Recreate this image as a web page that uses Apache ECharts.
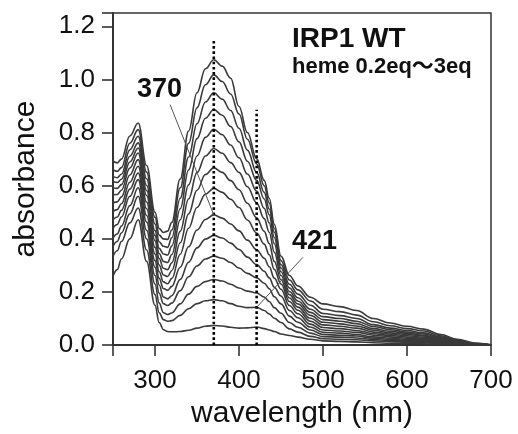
<!DOCTYPE html>
<html><head><meta charset="utf-8">
<script src="https://cdn.jsdelivr.net/npm/echarts@6/dist/echarts.min.js"></script>
<style>html,body{margin:0;padding:0;background:#fff}#c{width:518px;height:434px}</style>
</head><body><div id="c"></div>
<script>
const wavelengths = [250,255,260,270,280,290,300,305,310,315,320,330,340,350,360,370,380,390,400,410,421,430,436,442,450,460,470,485,500,520,540,560,580,600,620,640,660,680,700];

const c01 = [.259,.284,.324,.400,.472,.315,.150,.085,.058,.051,.050,.051,.056,.064,.071,.074,.072,.067,.064,.065,.068,.062,.057,.051,.042,.036,.030,.022,.016,.014,.012,.009,.007,.006,.005,.003,.002,.001,0];
const c02 = [.334,.355,.390,.460,.516,.358,.190,.122,.096,.090,.092,.112,.137,.156,.167,.171,.167,.156,.146,.141,.142,.130,.117,.101,.085,.061,.049,.033,.024,.022,.020,.016,.013,.011,.009,.006,.003,.001,0];
const c03 = [.372,.390,.422,.494,.560,.400,.230,.158,.122,.115,.121,.155,.192,.221,.239,.247,.241,.229,.215,.203,.196,.181,.164,.141,.120,.085,.067,.045,.032,.030,.027,.021,.017,.015,.012,.008,.004,.002,0];
const c04 = [.403,.418,.448,.525,.592,.432,.262,.195,.156,.149,.158,.205,.257,.298,.324,.335,.327,.311,.290,.270,.253,.233,.212,.182,.155,.109,.086,.057,.040,.037,.034,.026,.022,.018,.016,.010,.006,.002,0];
const c05 = [.441,.454,.482,.560,.623,.463,.293,.226,.181,.174,.186,.247,.312,.366,.399,.413,.403,.384,.360,.331,.303,.278,.253,.218,.185,.130,.103,.068,.048,.045,.040,.031,.026,.022,.019,.012,.007,.002,0];
const c06 = [.472,.482,.507,.587,.648,.488,.318,.251,.213,.206,.221,.293,.370,.433,.473,.490,.478,.456,.430,.395,.359,.327,.295,.252,.210,.149,.118,.079,.057,.053,.048,.037,.031,.026,.022,.015,.008,.003,0];
const c07 = [.503,.510,.532,.613,.673,.513,.343,.276,.238,.231,.251,.342,.440,.518,.568,.590,.575,.549,.518,.471,.422,.380,.340,.285,.230,.164,.131,.090,.066,.062,.055,.043,.036,.030,.026,.017,.009,.003,0];
const c08 = [.535,.539,.558,.640,.698,.538,.368,.301,.264,.258,.281,.385,.494,.583,.642,.667,.650,.619,.585,.534,.479,.428,.382,.315,.246,.177,.143,.101,.076,.071,.064,.049,.041,.035,.030,.020,.011,.004,0];
const c09 = [.566,.567,.583,.666,.723,.563,.393,.326,.289,.284,.310,.428,.550,.649,.712,.740,.722,.687,.650,.596,.535,.476,.425,.350,.262,.190,.155,.112,.086,.080,.072,.056,.046,.040,.034,.022,.012,.004,0];
const c10 = [.592,.590,.604,.689,.742,.582,.412,.345,.315,.311,.341,.472,.603,.712,.782,.812,.792,.753,.705,.644,.580,.515,.460,.382,.276,.202,.166,.123,.096,.090,.081,.062,.052,.044,.037,.025,.013,.005,0];
const c11 = [.616,.612,.624,.711,.761,.601,.431,.364,.343,.339,.373,.513,.659,.777,.854,.887,.865,.823,.765,.692,.620,.550,.490,.405,.290,.215,.178,.135,.107,.100,.090,.070,.058,.049,.042,.028,.015,.005,0];
const c12 = [.635,.630,.643,.735,.786,.626,.456,.389,.372,.368,.404,.553,.708,.833,.915,.950,.926,.883,.816,.734,.650,.575,.512,.425,.303,.229,.192,.150,.119,.111,.100,.077,.064,.055,.046,.031,.017,.006,0];
const c13 = [.660,.654,.668,.760,.811,.651,.481,.414,.400,.398,.433,.592,.760,.893,.980,1.017,.992,.945,.870,.775,.682,.600,.535,.440,.318,.245,.208,.166,.135,.126,.113,.088,.073,.062,.053,.035,.019,.007,.001];
const c14 = [.692,.686,.700,.787,.836,.676,.500,.439,.424,.429,.462,.625,.806,.950,1.040,1.074,1.050,1.005,.898,.800,.702,.620,.553,.455,.335,.262,.223,.180,.155,.145,.130,.100,.083,.071,.060,.040,.022,.008,.001];

const curves = [c01,c02,c03,c04,c05,c06,c07,c08,c09,c10,c11,c12,c13,c14];

const xTicks = [300,400,500,600,700];
const yTicks = [0,0.2,0.4,0.6,0.8,1.0,1.2];

const markerWavelengths = [370, 421];
const markerTops = [1.15, 0.886];

const label370Line = [[318, 0.905], [370, 0.49]];
const label421Line = [[476, 0.33], [421, 0.142]];

const X_MIN = 250, X_MAX = 700, Y_MIN = 0, Y_MAX = 1.25;
const FONT = "'Liberation Sans', Arial, sans-serif";
const TICK_LEN = 11;
const chart = echarts.init(document.getElementById('c'), null, {renderer:'canvas'});

const series = curves.map((c, i) => ({
  type: 'line', name: 'c' + (i+1),
  data: wavelengths.map((w, j) => [w, c[j]]),
  showSymbol: false, smooth: 0.4, smoothMonotone: 'x',
  lineStyle: {color: '#3a3a3a', width: 1.6},
  silent: true, animation: false, z: 2
}));

markerWavelengths.forEach((w, i) => {
  series.push({
    type: 'line', data: [[w, 0], [w, markerTops[i]]],
    showSymbol: false, animation: false, silent: true, z: 3,
    lineStyle: {color: '#000', width: 2.6, type: [2.6, 2.6]}
  });
});
[label370Line, label421Line].forEach(d => {
  series.push({
    type: 'line', data: d, showSymbol: false, animation: false, silent: true, z: 4,
    lineStyle: {color: '#555', width: 1}
  });
});

const tickStyle = {color: '#333', width: 1.6};

chart.setOption({
  animation: false,
  backgroundColor: '#fff',
  grid: {left: 113, right: 27, top: 13, bottom: 88, show: true, borderColor: '#333', borderWidth: 1.5},
  xAxis: {
    type: 'value', min: X_MIN, max: X_MAX, splitNumber: 5,
    name: 'wavelength (nm)', nameLocation: 'middle', nameGap: 67,
    nameTextStyle: {fontFamily: FONT, fontSize: 30, color: '#111', verticalAlign: 'middle'},
    axisLine: {show: true, onZero: false, lineStyle: {color: '#333', width: 2}},
    axisTick: {show: true, inside: false, length: TICK_LEN, lineStyle: tickStyle},
    splitLine: {show: false},
    axisLabel: {show: true, customValues: xTicks, margin: 23, fontFamily: FONT, fontSize: 26, color: '#111'}
  },
  yAxis: {
    type: 'value', min: Y_MIN, max: Y_MAX, splitNumber: 6,
    name: 'absorbance', nameLocation: 'middle', nameGap: 87, nameRotate: 90,
    nameTextStyle: {fontFamily: FONT, fontSize: 30, color: '#111', verticalAlign: 'middle'},
    axisLine: {show: true, onZero: false, lineStyle: {color: '#333', width: 2}},
    axisTick: {show: true, inside: false, length: TICK_LEN, lineStyle: tickStyle},
    splitLine: {show: false},
    axisLabel: {show: true, customValues: yTicks, margin: 18, fontFamily: FONT, fontSize: 26, color: '#111',
      formatter: v => v.toFixed(1)}
  },
  graphic: [
    {type: 'text', left: 292, top: 25, z: 10,
     style: {text: 'IRP1 WT', font: "bold 28px 'Liberation Sans', Arial, sans-serif", fill: '#111'}},
    {type: 'text', left: 292, top: 56, z: 10,
     style: {text: 'heme 0.2eq〜3eq', font: "bold 22px 'Liberation Sans', 'Noto Sans CJK JP', sans-serif", fill: '#111'}},
    {type: 'text', left: 137, top: 76, z: 10,
     style: {text: '370', font: "bold 27px 'Liberation Sans', Arial, sans-serif", fill: '#111', backgroundColor: '#fff'}},
    {type: 'text', left: 292, top: 228, z: 10,
     style: {text: '421', font: "bold 27px 'Liberation Sans', Arial, sans-serif", fill: '#111', backgroundColor: '#fff'}}
  ],
  series: series
});
</script></body></html>
